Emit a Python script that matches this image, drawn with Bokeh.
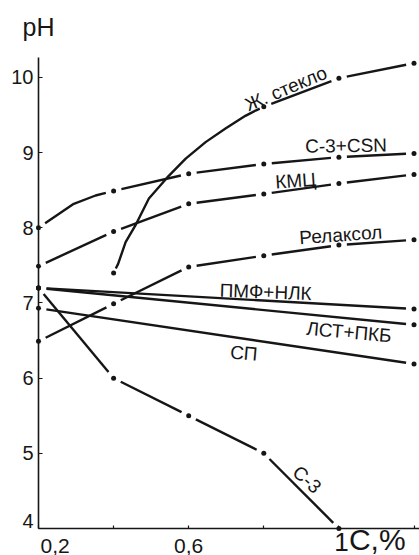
import math
from bokeh.plotting import figure
from bokeh.models import Range1d, FixedTicker, Label, LabelSet, ColumnDataSource
from bokeh.core.properties import value
from bokeh.embed import file_html
from bokeh.resources import INLINE

# ---------------- data ----------------
X_TICKS = [0.2, 0.4, 0.6, 0.8, 1.0, 1.2]
Y_TICKS = [4, 5, 6, 7, 8, 9, 10]
Y_LABELS = ["5", "6", "7", "8", "9", "10"]
Y_LABEL_POS = [5, 6, 7, 8, 9, 10]
X_LABELS = ["0,2", "0,6", "1"]
X_LABEL_POS = [0.2, 0.6, 1.0]

# measured points (dots)
c3csn_x = [0.2, 0.4, 0.6, 0.8, 1.0, 1.2]
c3csn_ph = [8.0, 8.49, 8.72, 8.85, 8.94, 8.99]

kmc_x = [0.2, 0.4, 0.6, 0.8, 1.0, 1.2]
kmc_ph = [7.49, 7.95, 8.32, 8.45, 8.59, 8.71]

relax_x = [0.2, 0.4, 0.6, 0.8, 1.0, 1.2]
relax_ph = [6.49, 6.99, 7.48, 7.63, 7.77, 7.84]

zh_x = [0.4, 0.8, 1.0, 1.2]
zh_ph = [7.4, 9.61, 9.99, 10.19]

s3_x = [0.2, 0.4, 0.6, 0.8, 1.0]
s3_ph = [7.2, 6.0, 5.5, 5.0, 4.0]

sp_x = [0.2, 1.2]
sp_ph = [6.93, 6.19]

pmf_x = [0.2, 1.2]
pmf_ph = [7.2, 6.92]

lst_x = [0.2, 1.2]
lst_ph = [7.2, 6.71]

# extra points (no dots there)
c3csn_curve_x = [0.294, 0.352]
c3csn_curve_ph = [8.32, 8.43]
zh_curve_x = [0.412, 0.432, 0.460, 0.494, 0.543, 0.592, 0.645, 0.698, 0.751, 0.778]
zh_curve_ph = [7.52, 7.81, 8.05, 8.39, 8.67, 8.92, 9.14, 9.32, 9.49, 9.56]

# series names
names = ["Ж. стекло", "C-3+CSN", "КМЦ", "Релаксол", "ПМФ+НЛК", "ЛСТ+ПКБ", "СП", "С-3"]
name_x = [0.859, 1.019, 0.885, 1.005, 0.805, 1.027, 0.747, 0.915]
name_y = [9.853, 9.093, 8.627, 7.907, 7.147, 6.613, 6.333, 4.653]
name_angle = [23, 1, 4, 4, -2, -5, -5, -42]

# ---------------- layout ----------------
W, H = 419, 555
AX_X_PX, AX_TOP_PX, AX_Y_PX = 38, 57, 528   # where the axes sit on the page
PX_X = 375.5      # pixels per x unit
PX_Y = 75.17      # pixels per pH unit
X_ORIG, Y_ORIG = 0.2, 4.0
X0 = X_ORIG - AX_X_PX / PX_X
X1 = X_ORIG + (W - AX_X_PX) / PX_X
Y0 = Y_ORIG - (H - AX_Y_PX) / PX_Y
Y1 = Y_ORIG + AX_Y_PX / PX_Y
Y_TOP = Y_ORIG + (AX_Y_PX - AX_TOP_PX) / PX_Y
GAP = 8.0         # px gap around every dot

INK = "#161616"
FONT = "Liberation Sans"

p = figure(width=W, height=H, output_backend="svg", toolbar_location=None,
           x_range=Range1d(X0, X1), y_range=Range1d(Y0, Y1),
           min_border=0, min_border_left=0, min_border_right=0,
           min_border_top=0, min_border_bottom=0)
p.outline_line_color = None
p.grid.visible = False
p.background_fill_color = "white"
p.border_fill_color = "white"

for ax in (p.xaxis, p.yaxis):
    ax.axis_line_color = INK
    ax.axis_line_width = 1.6
    ax.major_tick_out = 0
    ax.minor_tick_line_color = INK
    ax.minor_tick_line_width = 1.2
    ax.minor_tick_out = 0

p.xaxis.ticker = FixedTicker(ticks=[], minor_ticks=X_TICKS)
p.xaxis.minor_tick_in = 3
p.xaxis.fixed_location = Y_ORIG
p.xaxis.bounds = (X_ORIG, X1)

p.yaxis.ticker = FixedTicker(ticks=[], minor_ticks=Y_TICKS)
p.yaxis.minor_tick_in = 4
p.yaxis.fixed_location = X_ORIG
p.yaxis.bounds = (Y_ORIG, Y_TOP)


def pieces(xs, ys, ex, ey):
    """Polyline through dots and read curve points, broken with a gap at each dot."""
    pts = sorted([(a, b, True) for a, b in zip(xs, ys)] +
                 [(a, b, False) for a, b in zip(ex, ey)])
    segs, cur = [], [pts[0]]
    for pt in pts[1:]:
        cur.append(pt)
        if pt[2]:
            segs.append(cur)
            cur = [pt]
    if len(cur) > 1:
        segs.append(cur)

    def trim(a, b):
        dx, dy = (b[0] - a[0]) * PX_X, (b[1] - a[1]) * PX_Y
        L = math.hypot(dx, dy)
        t = min(GAP / L, 0.49) if L > 0 else 0
        return (a[0] + (b[0] - a[0]) * t, a[1] + (b[1] - a[1]) * t)

    out_x, out_y = [], []
    for s in segs:
        q = [(a, b) for a, b, _ in s]
        if s[0][2]:
            q[0] = trim(q[0], q[1])
        if s[-1][2]:
            q[-1] = trim(q[-1], q[-2])
        out_x.append([a for a, _ in q])
        out_y.append([b for _, b in q])
    return out_x, out_y


series = [
    (c3csn_x, c3csn_ph, c3csn_curve_x, c3csn_curve_ph),
    (kmc_x, kmc_ph, [], []),
    (relax_x, relax_ph, [], []),
    (zh_x, zh_ph, zh_curve_x, zh_curve_ph),
    (s3_x, s3_ph, [], []),
    (sp_x, sp_ph, [], []),
    (pmf_x, pmf_ph, [], []),
    (lst_x, lst_ph, [], []),
]

for xs, ys, ex, ey in series:
    mx, my = pieces(xs, ys, ex, ey)
    p.multi_line(mx, my, line_color=INK, line_width=2.4)
    p.scatter(xs, ys, size=5, fill_color=INK, line_color=None)

src = ColumnDataSource(dict(x=name_x, y=name_y, text=names, angle=name_angle))
p.add_layout(LabelSet(x="x", y="y", text="text", angle="angle", angle_units="deg",
                      source=src, text_align="center", text_baseline="middle",
                      text_font=value(FONT), text_font_size="19px", text_color=INK))

# tick labels
lab_x = X_ORIG - 5 / PX_X
ysrc = ColumnDataSource(dict(x=[lab_x] * len(Y_LABELS), y=Y_LABEL_POS, text=Y_LABELS))
p.add_layout(LabelSet(x="x", y="y", text="text", source=ysrc, text_align="right",
                      text_baseline="middle", text_font=value(FONT),
                      text_font_size="20px", text_color=INK))
p.add_layout(Label(x=lab_x, y=Y_ORIG, y_offset=8, text="4", text_align="right",
                   text_baseline="middle", text_font=FONT,
                   text_font_size="20px", text_color=INK))

x_sizes = ["21px", "21px", "26px"]
x_align = ["left", "center", "center"]
x_shift = [2, 0, 2.5]
x_drop = [-17, -17, -13]
for t, xp, fs, al, sh, dr in zip(X_LABELS, X_LABEL_POS, x_sizes, x_align, x_shift, x_drop):
    p.add_layout(Label(x=xp, y=Y_ORIG, x_offset=sh, y_offset=dr, text=t,
                       text_align=al, text_baseline="middle", text_font=FONT,
                       text_font_size=fs, text_color=INK))
p.add_layout(Label(x=1.0, y=Y_ORIG, x_offset=10, y_offset=-11, text="C,%",
                   text_align="left", text_baseline="middle", text_font=FONT,
                   text_font_size="30px", text_color=INK))
p.add_layout(Label(x=X_ORIG, y=Y_TOP, x_offset=-16, y_offset=31, text="pH",
                   text_align="left", text_baseline="middle", text_font=FONT,
                   text_font_size="25px", text_color=INK))

open("out.html", "w").write(file_html(p, INLINE))
